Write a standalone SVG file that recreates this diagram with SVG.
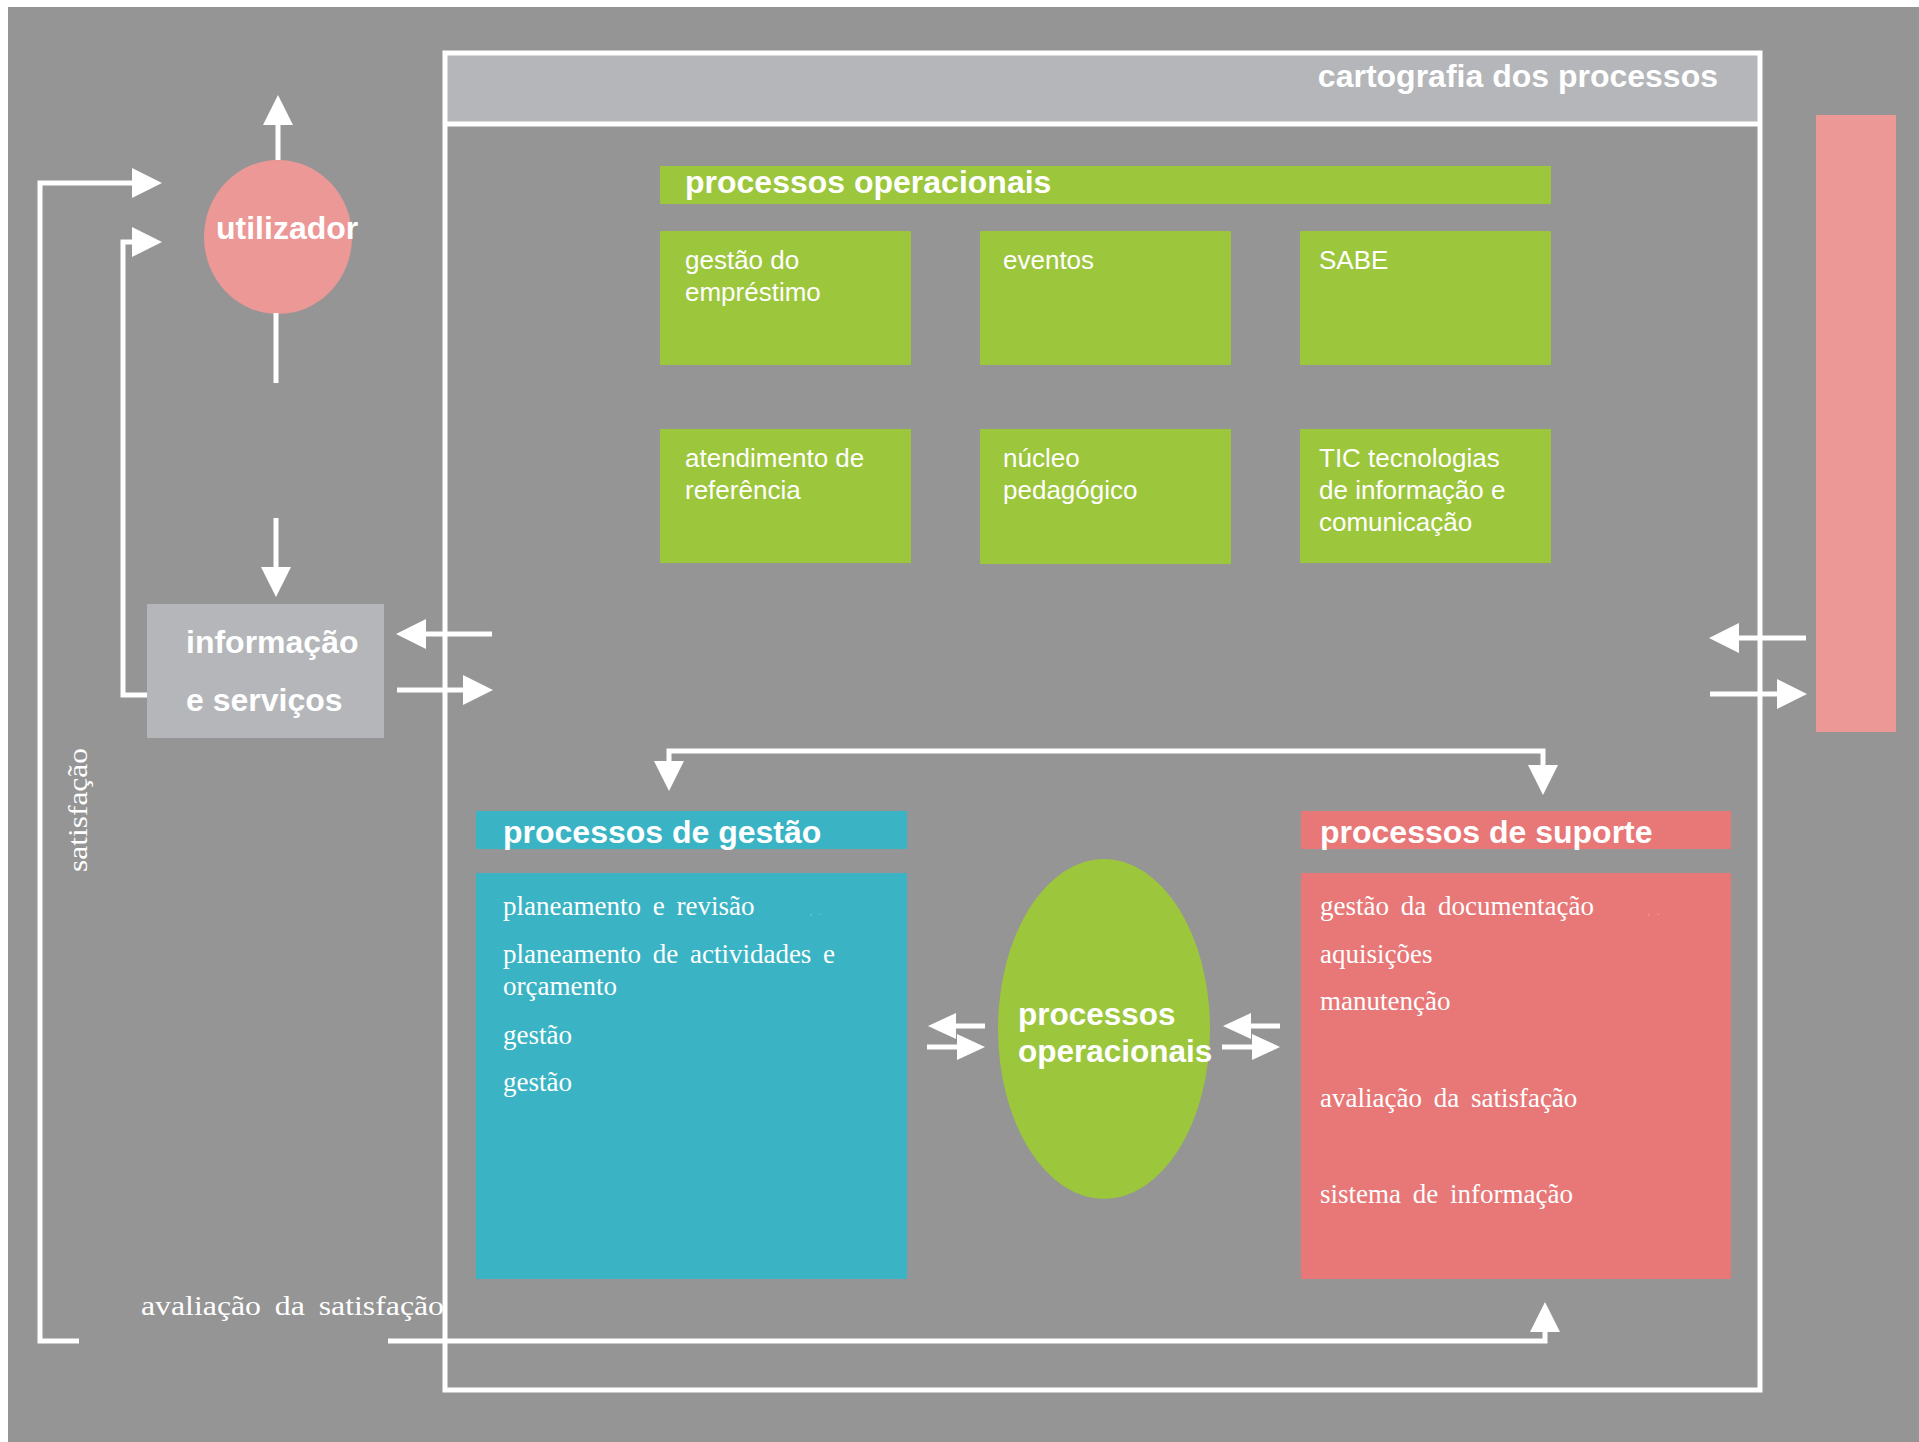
<svg xmlns="http://www.w3.org/2000/svg" width="1919" height="1442" viewBox="0 0 1919 1442">
  <style>
    .hd { font-family: "Liberation Sans", Arial, sans-serif; font-weight: bold; fill: #ffffff; }
    .bx { font-family: "Liberation Sans", Arial, sans-serif; font-size: 26px; fill: #ffffff; }
    .sf { font-family: "Liberation Serif", "Times New Roman", serif; font-size: 27px; fill: #ffffff; word-spacing: 5px; }
    .dots { font-family: "Liberation Serif", "Times New Roman", serif; font-size: 7px; fill: #ffffff; opacity: 0.6; word-spacing: 6px; }
    .ln { fill: none; stroke: #ffffff; stroke-width: 5; }
    .green { fill: #9cc63c; }
    .teal { fill: #3ab4c4; }
    .rose { fill: #e87777; }
    .pink { fill: #ec9896; }
    .lgray { fill: #b4b6b9; }
  </style>
  <defs>
    <marker id="ah" markerUnits="userSpaceOnUse" markerWidth="30" markerHeight="30" refX="20" refY="15" orient="auto-start-reverse">
      <path d="M0,0 L30,15 L0,30 Z" fill="#ffffff"/>
    </marker>
    <marker id="ahs" markerUnits="userSpaceOnUse" markerWidth="28" markerHeight="26" refX="18" refY="13" orient="auto-start-reverse">
      <path d="M0,0 L28,13 L0,26 Z" fill="#ffffff"/>
    </marker>
  </defs>

  <rect x="0" y="0" width="1919" height="1442" fill="#ffffff"/>
  <rect x="8" y="7" width="1911" height="1435" fill="#959595"/>

  <g id="frame">
    <rect x="445" y="53" width="1315" height="71" class="lgray"/>
    <rect x="445" y="53" width="1315" height="1337" fill="none" stroke="#ffffff" stroke-width="5"/>
    <line x1="445" y1="124" x2="1760" y2="124" stroke="#ffffff" stroke-width="5"/>
    <text class="hd" x="1718" y="87" font-size="32" text-anchor="end">cartografia dos processos</text>
  </g>

  <g id="utilizador">
    <ellipse cx="278" cy="237" rx="74" ry="77" class="pink"/>
    <text class="hd" x="216" y="239" font-size="32">utilizador</text>
  </g>

  <g id="informacao-servicos">
    <rect x="147" y="604" width="237" height="134" class="lgray"/>
    <text class="hd" x="186" y="653" font-size="32">informação</text>
    <text class="hd" x="186" y="711" font-size="32">e serviços</text>
  </g>

  <g id="barra-direita">
    <rect x="1816" y="115" width="80" height="617" class="pink"/>
  </g>

  <g id="processos-operacionais">
    <rect x="660" y="166" width="891" height="38" class="green"/>
    <text class="hd" x="685" y="193" font-size="32">processos operacionais</text>
  </g>

  <g id="gestao-emprestimo">
    <rect x="660" y="231" width="251" height="134" class="green"/>
    <text class="bx" x="685" y="269">gestão do</text>
    <text class="bx" x="685" y="301">empréstimo</text>
  </g>
  <g id="eventos">
    <rect x="980" y="231" width="251" height="134" class="green"/>
    <text class="bx" x="1003" y="269">eventos</text>
  </g>
  <g id="sabe">
    <rect x="1300" y="231" width="251" height="134" class="green"/>
    <text class="bx" x="1319" y="269">SABE</text>
  </g>
  <g id="atendimento">
    <rect x="660" y="429" width="251" height="134" class="green"/>
    <text class="bx" x="685" y="467">atendimento de</text>
    <text class="bx" x="685" y="499">referência</text>
  </g>
  <g id="nucleo">
    <rect x="980" y="429" width="251" height="135" class="green"/>
    <text class="bx" x="1003" y="467">núcleo</text>
    <text class="bx" x="1003" y="499">pedagógico</text>
  </g>
  <g id="tic">
    <rect x="1300" y="429" width="251" height="134" class="green"/>
    <text class="bx" x="1319" y="467">TIC tecnologias</text>
    <text class="bx" x="1319" y="499">de informação e</text>
    <text class="bx" x="1319" y="531">comunicação</text>
  </g>

  <g id="processos-gestao">
    <rect x="476" y="811" width="431" height="38" class="teal"/>
    <text class="hd" x="503" y="843" font-size="32">processos de gestão</text>
    <rect x="476" y="873" width="431" height="406" class="teal"/>
    <text class="sf" x="503" y="915">planeamento e revisão</text>
    <text class="dots" x="810" y="915">, .</text>
    <text class="sf" x="503" y="963">planeamento de actividades e</text>
    <text class="sf" x="503" y="995">orçamento</text>
    <text class="sf" x="503" y="1044">gestão</text>
    <text class="sf" x="503" y="1091">gestão</text>
  </g>

  <g id="processos-operacionais-centro">
    <ellipse cx="1104" cy="1029" rx="106" ry="170" class="green"/>
    <text class="hd" x="1018" y="1025" font-size="31.5">processos</text>
    <text class="hd" x="1018" y="1062" font-size="31.5">operacionais</text>
  </g>

  <g id="processos-suporte">
    <rect x="1301" y="811" width="430" height="38" class="rose"/>
    <text class="hd" x="1320" y="843" font-size="32">processos de suporte</text>
    <rect x="1301" y="873" width="430" height="406" class="rose"/>
    <text class="sf" x="1320" y="915">gestão da documentação</text>
    <text class="dots" x="1648" y="915">, .</text>
    <text class="sf" x="1320" y="963">aquisições</text>
    <text class="sf" x="1320" y="1010">manutenção</text>
    <text class="sf" x="1320" y="1107">avaliação da satisfação</text>
    <text class="sf" x="1320" y="1203">sistema de informação</text>
  </g>

  <g id="labels">
    <text class="sf" x="141" y="1315" font-size="25" word-spacing="0" textLength="303" lengthAdjust="spacingAndGlyphs">avaliação da satisfação</text>
    <text class="sf" x="0" y="0" font-size="23" word-spacing="0" textLength="124" lengthAdjust="spacingAndGlyphs" transform="translate(87,872) rotate(-90)">satisfação</text>
  </g>

  <g id="connectors">
    <path class="ln" d="M278,160 L278,105" marker-end="url(#ah)"/>
    <path class="ln" d="M276,313 L276,383"/>
    <path class="ln" d="M276,518 L276,587" marker-end="url(#ah)"/>
    <path class="ln" d="M79,1341 L40,1341 L40,183 L152,183" marker-end="url(#ah)"/>
    <path class="ln" d="M147,695 L123,695 L123,242 L152,242" marker-end="url(#ah)"/>
    <path class="ln" d="M492,634 L406,634" marker-end="url(#ah)"/>
    <path class="ln" d="M397,690 L483,690" marker-end="url(#ah)"/>
    <path class="ln" d="M1806,638 L1719,638" marker-end="url(#ah)"/>
    <path class="ln" d="M1710,694 L1797,694" marker-end="url(#ah)"/>
    <path class="ln" d="M669,781 L669,751 L1543,751 L1543,785" marker-start="url(#ah)" marker-end="url(#ah)"/>
    <path class="ln" d="M985,1026 L938,1026" marker-end="url(#ahs)"/>
    <path class="ln" d="M927,1047 L975,1047" marker-end="url(#ahs)"/>
    <path class="ln" d="M1280,1026 L1233,1026" marker-end="url(#ahs)"/>
    <path class="ln" d="M1222,1047 L1270,1047" marker-end="url(#ahs)"/>
    <path class="ln" d="M388,1341 L1545,1341 L1545,1312" marker-end="url(#ah)"/>
  </g>
</svg>
